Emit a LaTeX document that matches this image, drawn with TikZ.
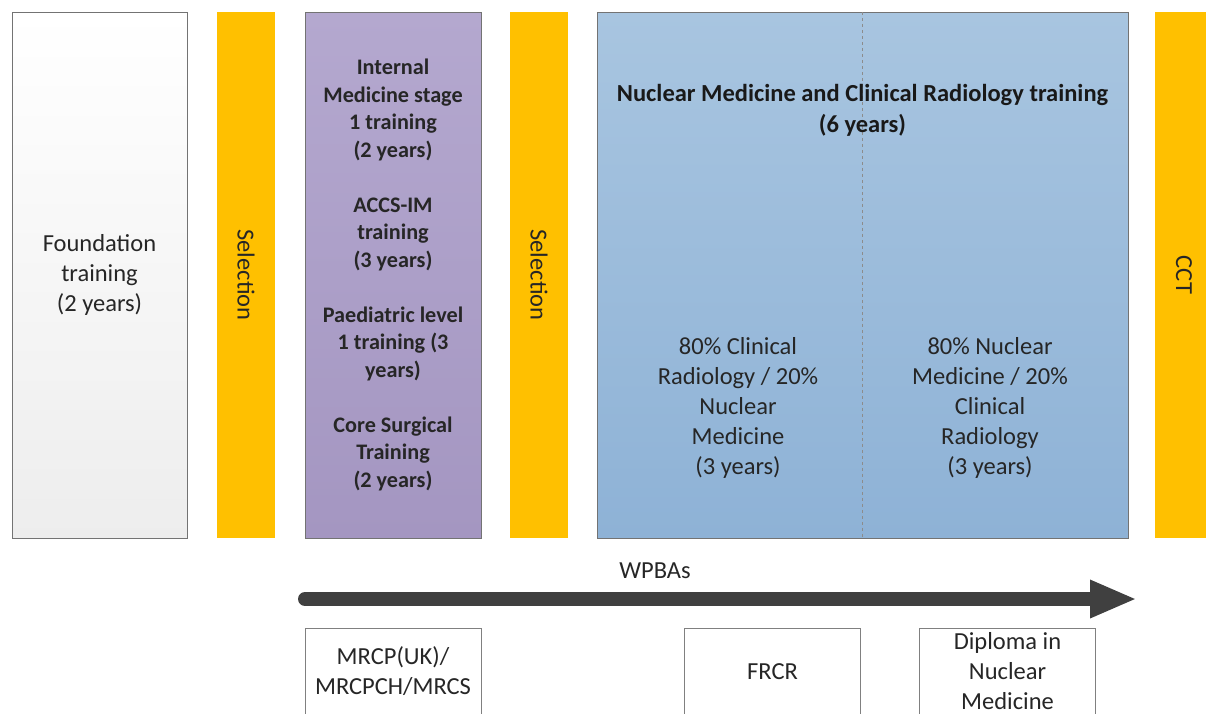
\documentclass[tikz,border=0pt]{standalone}
\usepackage{fontspec}
\setmainfont{Carlito}
\usetikzlibrary{arrows.meta}
\definecolor{selyellow}{RGB}{255,192,0}
\definecolor{imtop}{RGB}{180,168,207}
\definecolor{imbot}{RGB}{164,150,193}
\definecolor{nmtop}{RGB}{168,197,224}
\definecolor{nmbot}{RGB}{142,178,214}
\definecolor{arrowgray}{RGB}{64,64,64}

\begin{document}
\begin{tikzpicture}[x=1pt,y=-1pt,
  stage node/.style={draw=black!55,minimum height=526pt,inner sep=0pt,align=center,
    text=black!85,font=\fontsize{24.5}{30}\selectfont},
  gate node/.style={fill=selyellow,rotate=-90,minimum width=526pt,minimum height=58pt,
    inner sep=0pt,text=black!85,font=\fontsize{24.5}{30}\selectfont},
  exam node/.style={draw=black!50,fill=white,minimum width=176pt,minimum height=86pt,
    anchor=north,inner sep=0pt,align=center,text=black!85,font=\fontsize{24.5}{30}\selectfont}]
  \clip (0,0) rectangle (1206,713);

  \node[stage node,minimum width=175pt,top color=white,bottom color=black!7] (found) at (99.5,275)
    {Foundation\\training\\(2 years)};
  \node[gate node] (sel1) at (246,275) {Selection};
  \node[stage node,minimum width=176pt,top color=imtop,bottom color=imbot,
    font=\bfseries\fontsize{22.2}{27.5}\selectfont] (im) at (393,275)
    {Internal\\Medicine stage\\1 training\\(2 years)\\[27.5pt]
     ACCS-IM\\training\\(3 years)\\[27.5pt]
     Paediatric level\\1 training (3\\years)\\[27.5pt]
     Core Surgical\\Training\\(2 years)};
  \node[gate node] (sel2) at (539,275) {Selection};
  \node[stage node,minimum width=531pt,top color=nmtop,bottom color=nmbot] (nm) at (862.5,275) {};
  \node[gate node] (cct) at (1184,275) {CCT};

  \draw[black!45,dashed] (nm.north) -- (nm.south);
  \node[align=center,text=black!90,font=\bfseries\fontsize{24.5}{31}\selectfont] (nmtitle) at (862.5,110.5)
    {Nuclear Medicine and Clinical Radiology training\\(6 years)};
  \node[align=center,text=black!85,font=\fontsize{24.5}{30}\selectfont] (crpart) at (738,407.5)
    {80\% Clinical\\Radiology / 20\%\\Nuclear\\Medicine\\(3 years)};
  \node[align=center,text=black!85,font=\fontsize{24.5}{30}\selectfont] (nmpart) at (990,407.5)
    {80\% Nuclear\\Medicine / 20\%\\Clinical\\Radiology\\(3 years)};

  % assessments along training
  \coordinate (arrstart) at (305,599);
  \coordinate (arrend) at (1137,599);
  \draw[arrowgray,line width=14pt,line cap=round,-{Triangle[length=47pt,width=35pt]}] (arrstart) -- (arrend);
  \node[text=black!85,font=\fontsize{24.5}{30}\selectfont] (wpba) at (655,571) {WPBAs};

  \node[exam node] (mrcp) at (393,628) {MRCP(UK)/\\MRCPCH/MRCS};
  \node[exam node] (frcr) at (772.5,628) {FRCR};
  \node[exam node] (dipnm) at (1007.5,628) {Diploma in\\Nuclear\\Medicine};
\end{tikzpicture}
\end{document}
